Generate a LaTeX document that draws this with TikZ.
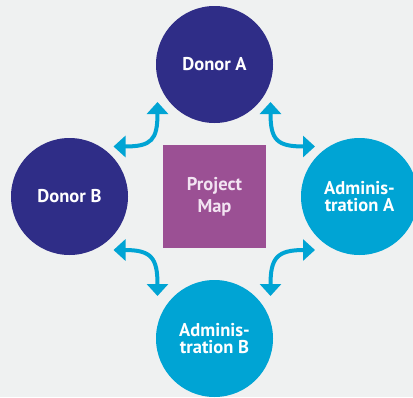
\documentclass[tikz,border=0pt]{standalone}
\usepackage{fontspec}
\setmainfont{PT Sans}
\usetikzlibrary{arrows.meta}

\definecolor{donorblue}{RGB}{47,45,135}
\definecolor{adminblue}{RGB}{0,164,212}
\definecolor{mapviolet}{RGB}{155,80,148}
\definecolor{backgray}{RGB}{239,241,241}

\tikzset{
    party/.style={circle,minimum size=117pt,inner sep=0pt,align=center,
        text=white,font=\fontsize{18.5}{17.5}\selectfont\bfseries},
    donor/.style={party,fill=donorblue},
    admin/.style={party,fill=adminblue},
    link/.style={draw=adminblue,line width=4pt,
        {Triangle[width=21pt,length=12pt]}-{Triangle[width=21pt,length=12pt]}}
}

\begin{document}
\begin{tikzpicture}[x=1pt,y=-1pt]
    \path[use as bounding box,fill=backgray](0,0) rectangle (413,397);
    \clip(0,0) rectangle (413,397);

    \node(map)[fill=mapviolet,minimum size=103pt,inner sep=0pt,align=center,
        text={rgb,255:red,242;green,228;blue,242},
        font=\fontsize{18.5}{22}\selectfont\bfseries] at (214.5,196.5) {Project\\Map};
    \node(donA)[donor] at (214.5,64.5)  {Donor A};
    \node(donB)[donor] at (69.5,196.5)  {Donor B};
    \node(admA)[admin] at (359.5,196.5) {Adminis-\\tration A};
    \node(admB)[admin] at (214.5,338.5) {Adminis-\\tration B};

    % arrow ends
    \coordinate(donA-w) at (157.5,102);
    \coordinate(donA-e) at (270.5,102);
    \coordinate(donB-n) at (113.5,146.5);
    \coordinate(donB-s) at (113.5,250);
    \coordinate(admA-n) at (315,146.5);
    \coordinate(admA-s) at (315,250);
    \coordinate(admB-w) at (157.5,296);
    \coordinate(admB-e) at (270.5,296);

    \draw[link](donA-w) .. controls +(0,38) and +(38,0) .. (donB-n);
    \draw[link](donA-e) .. controls +(0,38) and +(-38,0) .. (admA-n);
    \draw[link](donB-s) .. controls +(38,0) and +(0,-38) .. (admB-w);
    \draw[link](admA-s) .. controls +(-38,0) and +(0,-38) .. (admB-e);
\end{tikzpicture}
\end{document}
